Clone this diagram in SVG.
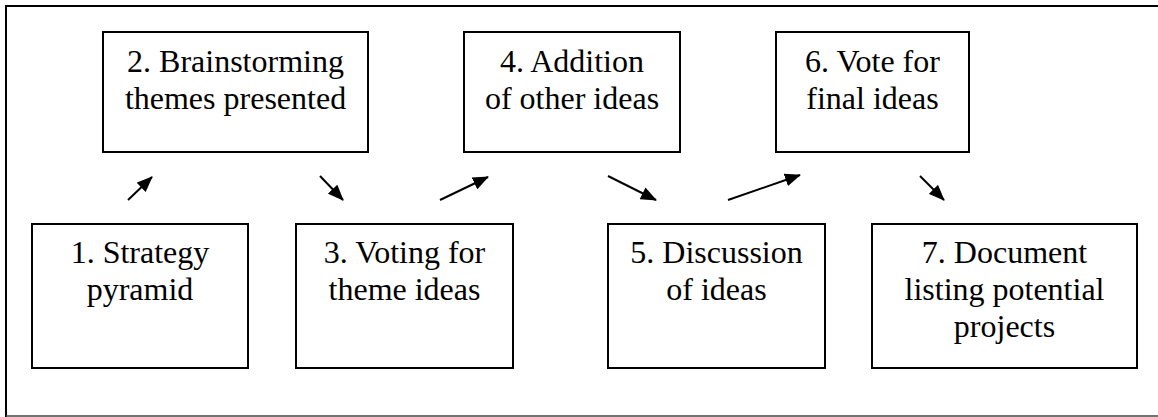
<svg xmlns="http://www.w3.org/2000/svg" width="1158" height="417" viewBox="0 0 1158 417">
  <style>
    .box { fill: #ffffff; stroke: #000000; stroke-width: 2; }
    text { font-family: "Times New Roman", "Liberation Serif", Tinos, "DejaVu Serif", serif; font-size: 32px; fill: #000000; text-anchor: middle; }
    .link { stroke: #000000; stroke-width: 2; fill: none; marker-end: url(#head); }
  </style>
  <defs>
    <marker id="head" markerWidth="16" markerHeight="13" refX="15" refY="6.5" orient="auto" markerUnits="userSpaceOnUse">
      <path d="M0,0 L16,6.5 L0,13 Z" fill="#000000"/>
    </marker>
  </defs>

  <rect width="1158" height="417" fill="#ffffff"/>

  <!-- outer frame: top, left and bottom rules -->
  <g id="frame">
    <line x1="6" y1="6" x2="1158" y2="6" stroke="#000000" stroke-width="2"/>
    <line x1="6" y1="5" x2="6" y2="417" stroke="#000000" stroke-width="2"/>
    <line x1="6" y1="416" x2="1158" y2="416" stroke="#444444" stroke-width="1.5"/>
  </g>

  <g id="node1">
    <rect class="box" x="32" y="224" width="216" height="144"/>
    <text x="140" y="263">1. Strategy</text>
    <text x="140" y="300">pyramid</text>
  </g>

  <g id="node2">
    <rect class="box" x="103" y="32" width="265" height="120"/>
    <text x="235.5" y="72">2. Brainstorming</text>
    <text x="235.5" y="109">themes presented</text>
  </g>

  <g id="node3">
    <rect class="box" x="296" y="224" width="217" height="144"/>
    <text x="404.5" y="263">3. Voting for</text>
    <text x="404.5" y="300">theme ideas</text>
  </g>

  <g id="node4">
    <rect class="box" x="464" y="32" width="216" height="120"/>
    <text x="572" y="72">4. Addition</text>
    <text x="572" y="109">of other ideas</text>
  </g>

  <g id="node5">
    <rect class="box" x="608" y="224" width="217" height="144"/>
    <text x="716.5" y="263">5. Discussion</text>
    <text x="716.5" y="300">of ideas</text>
  </g>

  <g id="node6">
    <rect class="box" x="776" y="32" width="193" height="120"/>
    <text x="872.5" y="72">6. Vote for</text>
    <text x="872.5" y="109">final ideas</text>
  </g>

  <g id="node7">
    <rect class="box" x="872" y="224" width="265" height="144"/>
    <text x="1004.5" y="263">7. Document</text>
    <text x="1004.5" y="300">listing potential</text>
    <text x="1004.5" y="337">projects</text>
  </g>

  <!-- connectors -->
  <g id="connectors">
    <line class="link" x1="128" y1="200" x2="152" y2="177"/>
    <line class="link" x1="320" y1="176" x2="343" y2="200"/>
    <line class="link" x1="440" y1="200" x2="488" y2="177"/>
    <line class="link" x1="608" y1="176" x2="656" y2="200"/>
    <line class="link" x1="728" y1="200" x2="800" y2="175"/>
    <line class="link" x1="920" y1="176" x2="944" y2="200"/>
  </g>
</svg>
